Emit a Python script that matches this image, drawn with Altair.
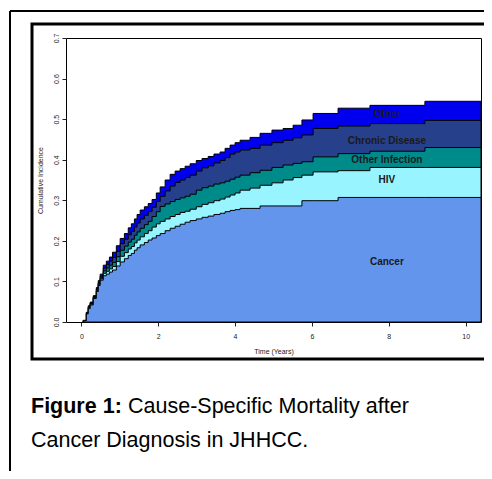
import altair as alt
import pandas as pd

# ---- data (cumulative incidence, stacked boundaries) ----
time = [0.05, 0.13, 0.18, 0.23, 0.31, 0.39, 0.44, 0.49, 0.57, 0.65, 0.73, 0.81, 0.91,
        1.01, 1.12, 1.22, 1.30, 1.38, 1.45, 1.53, 1.64, 1.74, 1.84, 1.95, 2.05, 2.18,
        2.31, 2.44, 2.57, 2.70, 2.83, 2.99, 3.14, 3.30, 3.45, 3.61, 3.74, 3.87, 4.00,
        4.13, 4.39, 4.65, 4.96, 5.25, 5.51, 5.74, 6.03, 6.68, 7.51, 8.94, 10.4]

cancer = [0.003, 0.020, 0.033, 0.042, 0.058, 0.075, 0.090, 0.103, 0.114, 0.118, 0.123, 0.128, 0.138,
          0.148, 0.156, 0.164, 0.169, 0.177, 0.183, 0.190, 0.196, 0.202, 0.207, 0.213, 0.218, 0.225,
          0.231, 0.236, 0.241, 0.246, 0.250, 0.254, 0.258, 0.261, 0.265, 0.268, 0.272, 0.275, 0.277,
          0.280, 0.280, 0.286, 0.286, 0.286, 0.286, 0.299, 0.299, 0.307, 0.307, 0.307, 0.307]

hiv = [0.003, 0.021, 0.035, 0.044, 0.060, 0.077, 0.093, 0.106, 0.120, 0.125, 0.131, 0.137, 0.149,
       0.162, 0.171, 0.180, 0.186, 0.195, 0.202, 0.210, 0.218, 0.225, 0.234, 0.242, 0.248, 0.254,
       0.260, 0.265, 0.270, 0.273, 0.278, 0.284, 0.290, 0.294, 0.299, 0.303, 0.308, 0.313, 0.318,
       0.325, 0.330, 0.337, 0.343, 0.350, 0.356, 0.362, 0.370, 0.373, 0.381, 0.381, 0.381]

other_infection = [0.003, 0.022, 0.036, 0.045, 0.061, 0.079, 0.095, 0.109, 0.126, 0.133, 0.140, 0.147, 0.161,
                   0.177, 0.187, 0.197, 0.204, 0.214, 0.222, 0.231, 0.240, 0.248, 0.260, 0.272, 0.285, 0.291,
                   0.297, 0.302, 0.306, 0.310, 0.315, 0.325, 0.331, 0.335, 0.340, 0.343, 0.347, 0.352, 0.357,
                   0.362, 0.368, 0.374, 0.381, 0.387, 0.391, 0.395, 0.407, 0.415, 0.421, 0.430, 0.430]

chronic = [0.004, 0.023, 0.038, 0.047, 0.063, 0.082, 0.098, 0.113, 0.133, 0.142, 0.150, 0.159, 0.174,
           0.193, 0.204, 0.215, 0.223, 0.234, 0.244, 0.254, 0.263, 0.272, 0.283, 0.297, 0.310, 0.323,
           0.335, 0.344, 0.350, 0.356, 0.362, 0.372, 0.380, 0.385, 0.392, 0.398, 0.405, 0.414, 0.419,
           0.424, 0.428, 0.436, 0.442, 0.448, 0.454, 0.461, 0.477, 0.483, 0.489, 0.497, 0.497]

other = [0.004, 0.024, 0.040, 0.049, 0.065, 0.085, 0.102, 0.118, 0.140, 0.150, 0.160, 0.172, 0.188,
         0.206, 0.218, 0.232, 0.242, 0.254, 0.265, 0.276, 0.284, 0.292, 0.302, 0.318, 0.333, 0.350,
         0.364, 0.372, 0.378, 0.384, 0.390, 0.398, 0.403, 0.408, 0.414, 0.419, 0.428, 0.436, 0.442,
         0.448, 0.455, 0.465, 0.473, 0.477, 0.485, 0.498, 0.514, 0.527, 0.534, 0.544, 0.544]

causes = ["Other", "Chronic Disease", "Other Infection", "HIV", "Cancer"]
colors = ["#0000EE", "#27408B", "#008B8B", "#98F5FF", "#6495ED"]
label_t = [7.95, 7.95, 7.95, 7.95, 7.95]
label_y = [0.512, 0.446, 0.399, 0.350, 0.148]

x_ticks = [0, 2, 4, 6, 8, 10]
y_ticks = [0.0, 0.1, 0.2, 0.3, 0.4, 0.5, 0.6, 0.7]

caption_bold = "Figure 1:"
caption_line1 = "Cause-Specific Mortality after"
caption_line2 = "Cancer Diagnosis in JHHCC."

# ---- build tables ----
series = [other, chronic, other_infection, hiv, cancer]
rows = []
for name, vals in zip(causes, series):
    for t, v in zip(time, vals):
        rows.append({"cause": name, "t": t, "ci": v})
df = pd.DataFrame(rows)
labels_df = pd.DataFrame({"cause": causes, "t": label_t, "ci": label_y})
one = pd.DataFrame({"k": [0]})

FONT = "Liberation Sans"
xscale = alt.Scale(domain=[-0.4, 10.4], nice=False, zero=False)
yscale = alt.Scale(domain=[0, 0.7], nice=False, zero=False)

x_axis = alt.Axis(values=x_ticks, format="d", title="Time (Years)", tickSize=4,
                  labelPadding=6, titlePadding=8, grid=False, domain=False,
                  labelFontSize=7, titleFontSize=7, titleFontWeight="normal",
                  labelFont=FONT, titleFont=FONT, labelColor="#222222",
                  titleColor="#222222", tickColor="#222222")
y_axis = alt.Axis(values=y_ticks, format=".1f", title="Cumulative Incidence", tickSize=4,
                  labelAngle=270, labelAlign="center", labelBaseline="bottom",
                  labelPadding=3, titlePadding=9, grid=False, domain=False,
                  labelFontSize=7, titleFontSize=7, titleFontWeight="normal",
                  labelFont=FONT, titleFont=FONT, labelColor="#222222",
                  titleColor="#222222", tickColor="#222222")

layers = []
for name, col in zip(causes, colors):
    layers.append(
        alt.Chart(df)
        .transform_filter(alt.datum.cause == name)
        .mark_area(interpolate="step-after", color=col, stroke="black",
                   strokeWidth=1, clip=True, opacity=1)
        .encode(x=alt.X("t:Q", scale=xscale, axis=x_axis),
                y=alt.Y("ci:Q", scale=yscale, axis=y_axis))
    )

text_layer = alt.Chart(labels_df).mark_text(
    font=FONT, fontSize=10, fontWeight="bold", color="#1a1a1a"
).encode(x=alt.X("t:Q", scale=xscale), y=alt.Y("ci:Q", scale=yscale), text="cause:N")

# frames (pixel positions relative to plot area)
outer_left = alt.Chart(one).mark_rule(color="black", strokeWidth=2).encode(
    x=alt.value(-56), y=alt.value(-27), y2=alt.value(460))
outer_top = alt.Chart(one).mark_rule(color="black", strokeWidth=2).encode(
    x=alt.value(-56), x2=alt.value(440), y=alt.value(-27))
inner_box = alt.Chart(one).mark_rect(fillOpacity=0, stroke="black", strokeWidth=3).encode(
    x=alt.value(-34), x2=alt.value(460), y=alt.value(-14), y2=alt.value(321))

cap_bold = alt.Chart(one).mark_text(
    font=FONT, fontSize=21.5, fontWeight="bold", color="black", align="left", baseline="alphabetic"
).encode(x=alt.value(-35), y=alt.value(375), text=alt.value(caption_bold))
cap_l1 = alt.Chart(one).mark_text(
    font=FONT, fontSize=21.5, color="black", align="left", baseline="alphabetic"
).encode(x=alt.value(62), y=alt.value(375), text=alt.value(caption_line1))
cap_l2 = alt.Chart(one).mark_text(
    font=FONT, fontSize=21.5, color="black", align="left", baseline="alphabetic"
).encode(x=alt.value(-35), y=alt.value(409), text=alt.value(caption_line2))

chart = alt.layer(
    *layers, text_layer, outer_left, outer_top, inner_box, cap_bold, cap_l1, cap_l2
).properties(
    width=415, height=284,
    padding={"left": 58, "top": 30, "right": 3, "bottom": 149},
    autosize=alt.AutoSizeParams(type="none"),
    background="white",
).configure_view(stroke="black", strokeWidth=1)

chart.save("out.html", embed_options={"renderer": "svg", "actions": False})
